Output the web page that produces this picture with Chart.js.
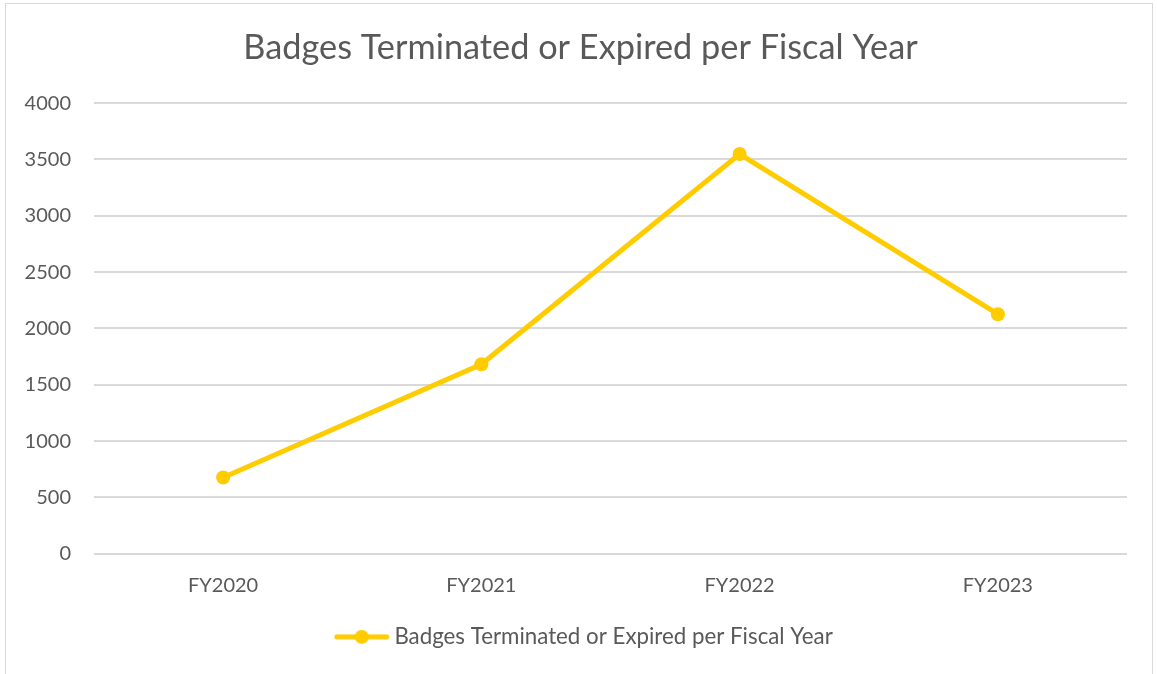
<!DOCTYPE html>
<html>
<head>
<meta charset="utf-8">
<title>Badges Terminated or Expired per Fiscal Year</title>
<script src="https://cdn.jsdelivr.net/npm/chart.js@4"></script>
<style>
  html, body { margin: 0; padding: 0; background: #fff; overflow: hidden; }
  .frame {
    position: absolute; left: 5px; top: 3px; width: 1148px; height: 700px;
    border: 1px solid #d9d9d9; box-sizing: border-box;
  }
  #badgeChart { position: absolute; left: 0; top: 0; }
</style>
</head>
<body>
<div class="frame"></div>
<canvas id="badgeChart" width="1157" height="674"></canvas>
<script>
// fiscal years and badge counts
const fiscalYears = ["FY2020", "FY2021", "FY2022", "FY2023"];
const badgeCounts = [676, 1682, 3548, 2126];
const yTicks = [0, 500, 1000, 1500, 2000, 2500, 3000, 3500, 4000];
const seriesName = "Badges Terminated or Expired per Fiscal Year";

const lineColor = "#ffcc00";
const textColor = "#595959";
const fontFamily = "Lato, 'Open Sans', sans-serif";

// legend marker: short line with dot in the middle
const marker = document.createElement("canvas");
marker.width = 80;
marker.height = 16;
const mctx = marker.getContext("2d");
mctx.strokeStyle = lineColor;
mctx.lineWidth = 5;
mctx.lineCap = "round";
mctx.beginPath();
mctx.moveTo(21, 8);
mctx.lineTo(71, 8);
mctx.stroke();
mctx.fillStyle = lineColor;
mctx.beginPath();
mctx.arc(46, 8, 7, 0, Math.PI * 2);
mctx.fill();

// let the y labels use the space left of the axis box
const yLabelRoom = {
  id: "yLabelRoom",
  afterLayout(chart) {
    chart.scales.y.left = 0;
  },
};

const ctx = document.getElementById("badgeChart").getContext("2d");
const badgeChart = new Chart(ctx, {
  type: "line",
  data: {
    labels: fiscalYears,
    datasets: [
      {
        label: seriesName,
        data: badgeCounts,
        borderColor: lineColor,
        backgroundColor: lineColor,
        borderWidth: 5,
        pointRadius: 7,
        pointHoverRadius: 7,
        pointBorderWidth: 0,
        tension: 0,
      },
    ],
  },
  plugins: [yLabelRoom],
  options: {
    responsive: false,
    animation: false,
    layout: { padding: { top: 0, right: 30, bottom: 16, left: 34 } },
    plugins: {
      title: {
        display: true,
        text: seriesName,
        color: textColor,
        font: { family: fontFamily, size: 34.3, weight: "normal" },
        padding: { top: 27, bottom: 35 },
      },
      legend: {
        position: "bottom",
        labels: {
          color: textColor,
          font: { family: fontFamily, size: 22.3 },
          usePointStyle: true,
          pointStyleWidth: 55,
          padding: 8,
          generateLabels: (chart) => [
            {
              text: seriesName,
              pointStyle: marker,
              fontColor: textColor,
              datasetIndex: 0,
            },
          ],
        },
      },
      tooltip: { enabled: false },
    },
    scales: {
      x: {
        offset: true,
        grid: { display: false, drawTicks: false },
        border: { display: false },
        ticks: {
          color: textColor,
          font: { family: fontFamily, size: 20 },
          padding: 20,
        },
      },
      y: {
        min: 0,
        max: 4000,
        afterBuildTicks: (scale) => {
          scale.ticks = yTicks.map((v) => ({ value: v }));
        },
        afterFit: (scale) => {
          scale.width = 60;
        },
        grid: { color: "#d9d9d9", lineWidth: 2, drawTicks: false },
        border: { display: false },
        ticks: {
          color: textColor,
          font: { family: fontFamily, size: 20 },
          padding: 23,
          callback: (v) => String(v),
        },
      },
    },
  },
});
</script>
</body>
</html>
